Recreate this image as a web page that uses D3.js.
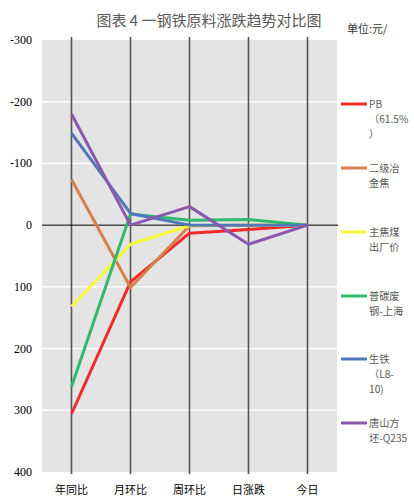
<!DOCTYPE html>
<html><head><meta charset="utf-8">
<script src="https://cdn.jsdelivr.net/npm/d3@7/dist/d3.min.js"></script>
<style>body{margin:0;background:#fff}svg{display:block}</style>
</head><body>
<script>
const categories = ["年同比","月环比","周环比","日涨跌","今日"];
const seriesNames = [["PB","（61.5%","）"],["二级冶","金焦"],["主焦煤","出厂价"],["普碳废","钢-上海"],["生铁","（L8-","10)"],["唐山方","坯-Q235"]];
const pb = [306, 92, 13, 7, 0];
const coke = [-74, 101, 1, 0, 0];
const coal = [132, 31, 1, 0, 0];
const scrap = [262, -18, -8, -9, 0];
const iron = [-149, -19, 0, 0, 0];
const billet = [-180, 0, -30, 31, 0];
const yTicks = [-300,-200,-100,0,100,200,300,400];
const colors = ["#f42a2a","#d6814b","#f7f73c","#2fba6e","#5278ba","#8a58ad"];
const allSeries = [pb, coke, coal, scrap, iron, billet];

const W = 414, H = 503;
const svg = d3.select("body").append("svg").attr("width", W).attr("height", H);
const L = 42, R = 337, T = 40, B = 472;
const x = d3.scaleBand().domain(categories).range([L, R]);
const y = d3.scaleLinear().domain([-300, 400]).range([T, B]);

svg.append("rect").attr("x", L).attr("y", T).attr("width", R - L).attr("height", B - T).attr("fill", "#e4e4e4");
svg.selectAll(".grid").data(yTicks.filter(d => d !== 0 && d !== -300 && d !== 400)).join("line")
  .attr("x1", L).attr("x2", R).attr("y1", d => y(d)).attr("y2", d => y(d))
  .attr("stroke", "#fff").attr("stroke-width", 1.5);
svg.selectAll(".vline").data(categories).join("line")
  .attr("x1", d => x(d) + x.bandwidth()/2).attr("x2", d => x(d) + x.bandwidth()/2)
  .attr("y1", T - 3).attr("y2", B + 2).attr("stroke", "#555").attr("stroke-width", 1.6);
svg.append("line").attr("x1", L).attr("x2", R + 1).attr("y1", y(0)).attr("y2", y(0)).attr("stroke", "#000").attr("stroke-width", 1);

svg.selectAll(".ytl").data(yTicks).join("text")
  .attr("x", 32).attr("y", d => y(d) + 4).attr("text-anchor", "end")
  .attr("font-family", "Liberation Serif").attr("font-size", 12).attr("fill", "#000").text(d => d);
svg.selectAll(".xtl").data(categories).join("text")
  .attr("x", d => x(d) + x.bandwidth()/2).attr("y", 494).attr("text-anchor", "middle")
  .attr("font-family", "Noto Sans CJK SC").attr("font-size", 11).attr("fill", "#000").text(d => d);

const line = d3.line().x((d, i) => x(categories[i]) + x.bandwidth()/2).y(d => y(d));
allSeries.forEach((s, k) => {
  svg.append("path").attr("d", line(s)).attr("fill", "none").attr("stroke", colors[k])
    .attr("stroke-width", 3).attr("stroke-linejoin", "round");
});

const legY = [104, 168, 232, 296, 359, 423];
seriesNames.forEach((names, k) => {
  svg.append("line").attr("x1", 341).attr("x2", 367).attr("y1", legY[k]).attr("y2", legY[k])
    .attr("stroke", colors[k]).attr("stroke-width", 3);
  names.forEach((t, j) => {
    svg.append("text").attr("x", 369).attr("y", legY[k] + 4 + j * 14.8)
      .attr("font-family", "Noto Sans CJK SC").attr("font-size", 10.2).attr("fill", "#595959").text(t);
  });
});

svg.append("text").attr("x", 209).attr("y", 26).attr("text-anchor", "middle")
  .attr("font-family", "Noto Sans CJK SC").attr("font-size", 15).attr("fill", "#595959").text("图表 4 一钢铁原料涨跌趋势对比图");
svg.append("text").attr("x", 347).attr("y", 33)
  .attr("font-family", "Noto Sans CJK SC").attr("font-size", 11).attr("fill", "#333").text("单位:元/");
</script>
</body></html>
